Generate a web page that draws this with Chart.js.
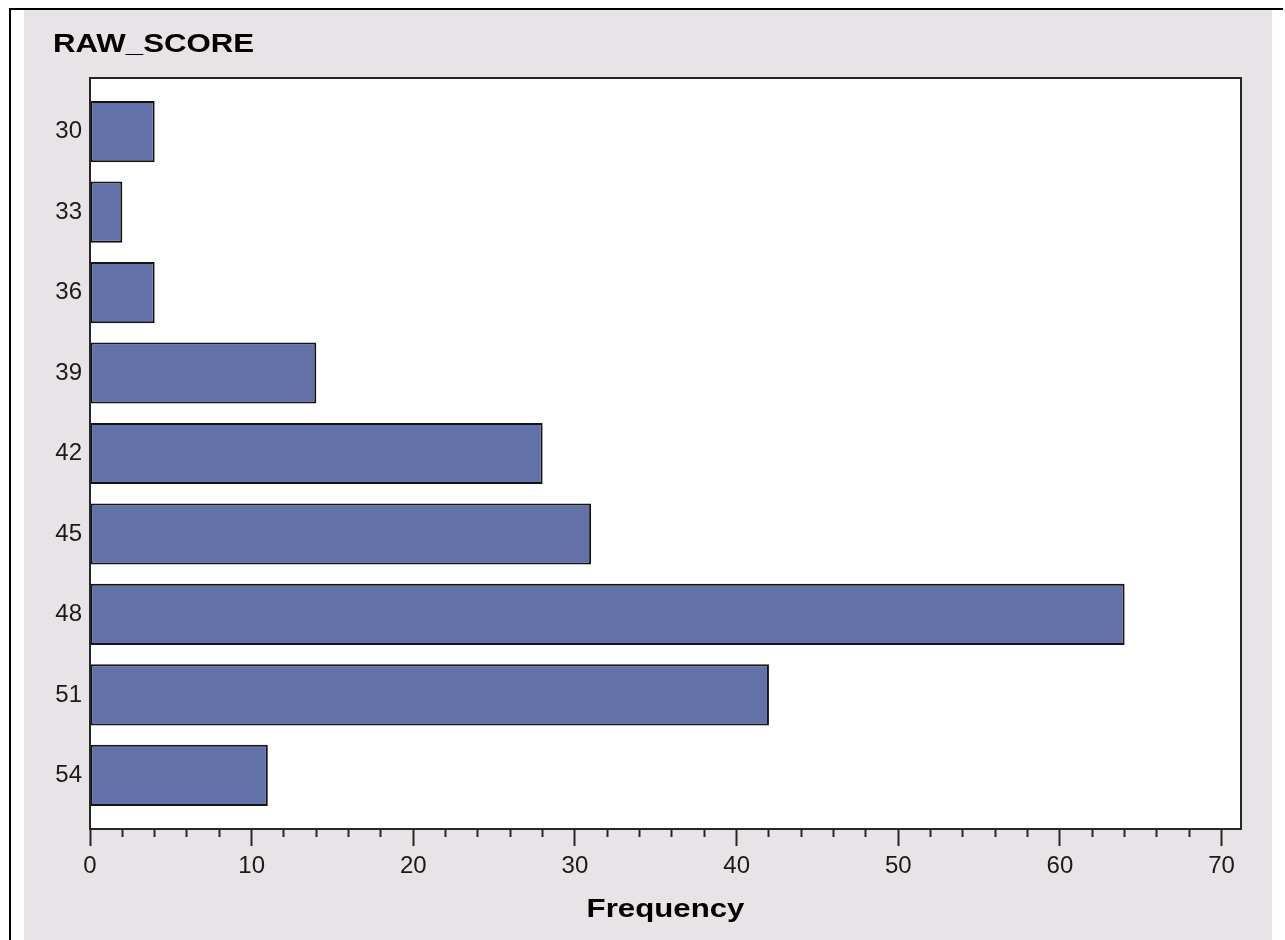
<!DOCTYPE html>
<html lang="en">
<head>
<meta charset="UTF-8">
<title>RAW_SCORE</title>
<script src="https://cdn.jsdelivr.net/npm/chart.js"></script>
<style>
    body { margin: 0; background: #ffffff; }
    .frame {
        position: absolute;
        left: 9px; top: 8px;
        width: 1272px; height: 940px;
        border-left: 2px solid #000;
        border-top: 2px solid #000;
    }
    .panel {
        position: absolute;
        left: 24px; top: 10px;
        width: 1248px; height: 930px;
        background: #e7e3e7;
    }
</style>
</head>
<body>
<div class="frame"></div>
<div class="panel"><canvas id="freqChart"></canvas></div>

<script>
    // values
    const scores = [30, 33, 36, 39, 42, 45, 48, 51, 54];
    const frequency = [4, 2, 4, 14, 28, 31, 64, 42, 11];
    const freqTicks = [0, 10, 20, 30, 40, 50, 60, 70];
    const chartTitle = 'RAW_SCORE';
    const axisTitle = 'Frequency';

    const tickFont = { family: '"Liberation Sans", Arial, sans-serif', size: 24 };

    // draws a bold label stretched sideways, like the SAS graph font
    function wideText(ctx, text, x, y, align) {
        const sx = 1.2;
        ctx.save();
        ctx.font = 'bold 26px "Liberation Sans", Arial, sans-serif';
        ctx.fillStyle = '#000000';
        ctx.textBaseline = 'alphabetic';
        ctx.textAlign = align;
        ctx.translate(x, y);
        ctx.scale(sx, 1);
        ctx.fillText(text, 0, 0);
        ctx.restore();
    }

    // white plot area + frame around it + the two bold titles
    const sasFrame = {
        id: 'sasFrame',
        beforeDraw(chart) {
            const a = chart.chartArea, ctx = chart.ctx;
            ctx.save();
            ctx.fillStyle = '#ffffff';
            ctx.fillRect(a.left, a.top, a.width, a.height);
            ctx.restore();
        },
        afterDatasetsDraw(chart) {
            const a = chart.chartArea, ctx = chart.ctx;
            ctx.save();
            ctx.strokeStyle = '#262626';
            ctx.lineWidth = 2;
            ctx.strokeRect(a.left, a.top, a.width, a.height);
            ctx.restore();
        },
        afterDraw(chart) {
            const a = chart.chartArea;
            wideText(chart.ctx, chartTitle, a.left - 37, a.top - 26, 'left');
            wideText(chart.ctx, axisTitle, (a.left + a.right) / 2, a.bottom + 88, 'center');
        }
    };

    const chart = new Chart(document.getElementById('freqChart'), {
        type: 'bar',
        data: {
            datasets: [{
                label: axisTitle,
                data: scores.map((s, i) => ({ x: frequency[i], y: s })),
                backgroundColor: '#6272a8',
                borderColor: '#141414',
                borderWidth: 2,
                borderSkipped: false,
                barPercentage: 0.76,
                categoryPercentage: 1
            }]
        },
        options: {
            indexAxis: 'y',
            responsive: true,
            maintainAspectRatio: false,
            animation: false,
            layout: { padding: { top: 68, right: 31, left: 0, bottom: 0 } },
            plugins: {
                legend: { display: false },
                tooltip: { enabled: false }
            },
            scales: {
                y: {
                    type: 'linear',
                    reverse: true,
                    offset: false,
                    min: 28,
                    max: 56,
                    afterBuildTicks: scale => { scale.ticks = scores.map(v => ({ value: v })); },
                    afterFit: scale => { scale.width = 66; },
                    grid: { display: false, drawTicks: false },
                    border: { display: false },
                    ticks: { font: tickFont, color: '#1a1a1a', padding: 8, autoSkip: false }
                },
                x: {
                    type: 'linear',
                    min: 0,
                    max: 71.2,
                    afterBuildTicks: scale => {
                        const t = [];
                        for (let v = 0; v <= 70; v += 2) t.push({ value: v });
                        scale.ticks = t;
                    },
                    afterFit: scale => { scale.height = 111; },
                    grid: {
                        drawOnChartArea: false,
                        tickLength: 17,
                        tickColor: '#262626',
                        tickWidth: 2,
                        tickBorderDash: ctx => freqTicks.includes(ctx.tick.value) ? [] : [8, 40]
                    },
                    border: { display: false },
                    ticks: {
                        font: tickFont,
                        color: '#1a1a1a',
                        padding: 6,
                        autoSkip: false,
                        maxRotation: 0,
                        callback: v => freqTicks.includes(v) ? String(v) : ''
                    }
                }
            }
        },
        plugins: [sasFrame]
    });
</script>
</body>
</html>
